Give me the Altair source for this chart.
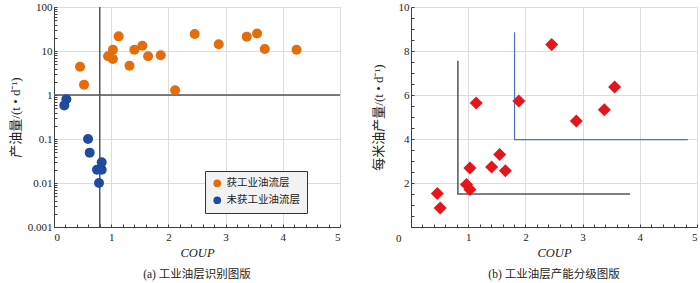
import altair as alt
import pandas as pd

# ---------------- data: panel (a) ----------------
a_orange_x = [0.455, 0.525, 0.945, 1.03, 1.03, 1.13, 1.32, 1.405, 1.545, 1.645,
              1.866, 2.117, 2.46, 2.88, 3.37, 3.55, 3.685, 4.24]
a_orange_y = [4.4, 1.72, 7.6, 10.7, 6.6, 21.5, 4.6, 10.7, 13.2, 7.6,
              8.0, 1.28, 24.3, 14.2, 21.2, 25.1, 11.1, 10.7]
a_blue_x = [0.18, 0.216, 0.595, 0.624, 0.752, 0.834, 0.834, 0.787]
a_blue_y = [0.58, 0.80, 0.10, 0.049, 0.020, 0.0295, 0.020, 0.010]
a_groups = ["获工业油流层", "未获工业油流层"]
a_vline = [0.8]
a_hline = [1]

# ---------------- data: panel (b) ----------------
b_x = [0.46, 0.51, 0.97, 1.03, 1.03, 1.14, 1.41, 1.55, 1.65, 1.885, 2.46, 2.89, 3.38, 3.56]
b_y = [1.52, 0.86, 1.93, 1.70, 2.68, 5.64, 2.73, 3.30, 2.56, 5.73, 8.29, 4.82, 5.33, 6.36]
b_gray_x = [0.82, 0.82, 3.83]
b_gray_y = [7.56, 1.50, 1.50]
b_blue_x = [1.81, 1.81, 4.84]
b_blue_y = [8.85, 3.97, 3.97]

# tick values
xa_major = [0, 1, 2, 3, 4, 5]
xb_major = [1, 2, 3, 4, 5]
x_minor = [round(0.2 * i, 1) for i in range(26)]
ya_major = [0.001, 0.01, 0.1, 1, 10, 100]
ya_minor = [m * 10 ** e for e in range(-3, 2) for m in range(1, 10)] + [100]
yb_major = [2, 4, 6, 8, 10]
yb_zero = [0]
yb_minor = [0.5 * i for i in range(21)]

SERIF = "Liberation Serif, DejaVu Serif, Noto Sans CJK SC"
CJK = "Liberation Serif, Noto Sans CJK SC"
W, H = 286, 220
GRID = "#dcdcdc"
AX = "#404040"

df_a = pd.DataFrame({
    "x": a_orange_x + a_blue_x,
    "y": a_orange_y + a_blue_y,
    "g": [a_groups[0]] * len(a_orange_x) + [a_groups[1]] * len(a_blue_x),
})
df_b = pd.DataFrame({"x": b_x, "y": b_y})
df_bg = pd.DataFrame({"x": b_gray_x, "y": b_gray_y, "o": [0, 1, 2]})
df_bb = pd.DataFrame({"x": b_blue_x, "y": b_blue_y, "o": [0, 1, 2]})


def main_x(vals):
    return alt.Axis(values=vals, grid=True, gridColor=GRID, ticks=False,
                    domainColor=AX, labelFont=SERIF, labelFontSize=11, labelColor="#222",
                    labelPadding=4, title="COUP", titleFont=SERIF, titleFontStyle="italic",
                    titleFontWeight="normal", titleFontSize=12.5, titleColor="#222",
                    titlePadding=4)


def minor_x():
    return alt.Axis(orient="top", offset=-H, values=x_minor, grid=False, labels=False,
                    domain=False, ticks=True, tickSize=3, tickColor=AX, title=None)


def minor_y(vals):
    return alt.Axis(orient="right", offset=-W, values=vals, grid=False, labels=False,
                    domain=False, ticks=True, tickSize=3, tickColor=AX, title=None)


xs = alt.Scale(domain=[0, 5], nice=False)
ya_s = alt.Scale(type="log", domain=[0.001, 100], nice=False)
yb_s = alt.Scale(domain=[0, 10], nice=False)

# ---------- panel (a) ----------
pts_a = alt.Chart(df_a).mark_point(filled=True, size=100, opacity=1, shape="circle").encode(
    x=alt.X("x:Q", scale=xs, axis=main_x(xa_major)),
    y=alt.Y("y:Q", scale=ya_s, axis=alt.Axis(
        values=ya_major, format="~g", grid=True, gridColor=GRID, ticks=False,
        domainColor=AX, labelFont=SERIF, labelFontSize=11, labelColor="#222",
        title="产油量/(t • d⁻¹)", titleFont=CJK, titleFontSize=13,
        titleFontWeight="normal", titleColor="#222", titlePadding=5)),
    color=alt.Color("g:N", scale=alt.Scale(domain=a_groups, range=["#E46C0A", "#1F4AA0"]),
                    legend=alt.Legend(title=None, orient="none", legendX=151, legendY=164,
                                      fillColor="#f2f2f2", strokeColor="#333", padding=7,
                                      labelFont=CJK, labelFontSize=10.5, labelColor="#222",
                                      symbolSize=60, symbolType="circle", rowPadding=6,
                                      labelLimit=200)),
)
vl_a = alt.Chart(pd.DataFrame({"x": a_vline})).mark_rule(color="#555", strokeWidth=1.5).encode(
    x=alt.X("x:Q", scale=xs, axis=minor_x()))
hl_a = alt.Chart(pd.DataFrame({"y": a_hline})).mark_rule(color="#555", strokeWidth=1.5).encode(
    y=alt.Y("y:Q", scale=ya_s, axis=minor_y(ya_minor)))

chart_a = alt.layer(vl_a, hl_a, pts_a).resolve_axis(x="independent", y="independent").properties(
    width=W, height=H,
    title=alt.TitleParams("(a) 工业油层识别图版", orient="bottom", anchor="middle",
                          font=CJK, fontSize=11.5, fontWeight="normal", color="#222", offset=10))

# ---------- panel (b) ----------
pts_b = alt.Chart(df_b).mark_point(filled=True, size=170, opacity=1, shape="diamond",
                                   color="#E8141B").encode(
    x=alt.X("x:Q", scale=xs, axis=main_x(xb_major)),
    y=alt.Y("y:Q", scale=yb_s, axis=alt.Axis(
        values=yb_major, grid=True, gridColor=GRID, ticks=False,
        domainColor=AX, labelFont=SERIF, labelFontSize=11, labelColor="#222",
        title="每米油产量/(t • d⁻¹)", titleFont=CJK, titleFontSize=13,
        titleFontWeight="normal", titleColor="#222", titlePadding=13)),
)
gl_b = alt.Chart(df_bg).mark_line(color="#555", strokeWidth=1.5).encode(
    x=alt.X("x:Q", scale=xs, axis=minor_x()),
    y=alt.Y("y:Q", scale=yb_s, axis=minor_y(yb_minor)),
    order="o:Q")
bl_b = alt.Chart(df_bb).mark_line(color="#4472C4", strokeWidth=1.2).encode(
    x=alt.X("x:Q", scale=xs, axis=None),
    y=alt.Y("y:Q", scale=yb_s, axis=alt.Axis(
        orient="left", values=yb_zero, grid=False, ticks=False, domain=False,
        labelFont=SERIF, labelFontSize=11, labelColor="#222", labelPadding=10,
        labelOffset=11, title=None)),
    order="o:Q")

chart_b = alt.layer(gl_b, bl_b, pts_b).resolve_axis(x="independent", y="independent").properties(
    width=W, height=H,
    title=alt.TitleParams("(b) 工业油层产能分级图版", orient="bottom", anchor="middle",
                          font=CJK, fontSize=11.5, fontWeight="normal", color="#222", offset=10))

chart = alt.hconcat(chart_a, chart_b, spacing=29).properties(
    padding={"left": 8, "top": 0, "right": 0, "bottom": 0}
).configure_view(stroke=None).configure(background="white")

chart.save("out.html", embed_options={"renderer": "svg", "actions": False})
